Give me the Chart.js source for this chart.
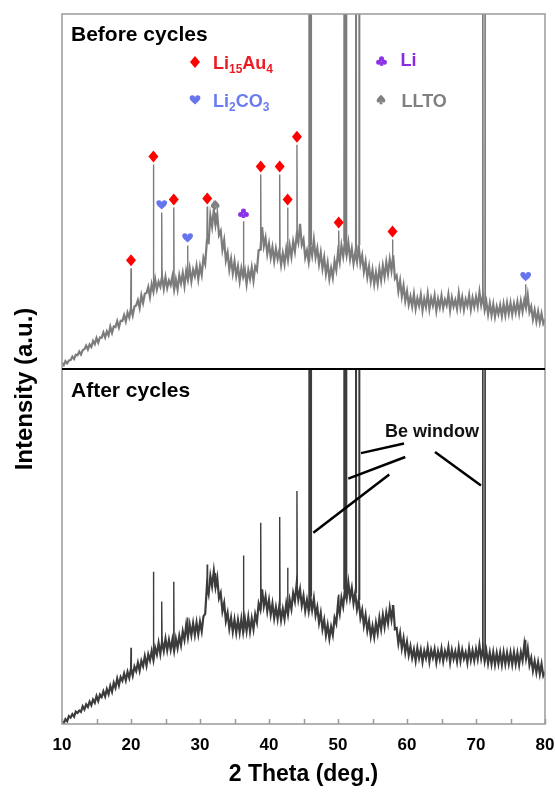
<!DOCTYPE html>
<html>
<head>
<meta charset="utf-8">
<title>XRD before / after cycles</title>
<script src="https://cdn.jsdelivr.net/npm/chart.js@4.4.1/dist/chart.umd.min.js"></script>
<style>
  html, body { margin: 0; padding: 0; background: #fff; }
  #wrap { position: relative; width: 555px; height: 792px; }
</style>
</head>
<body>
<div id="wrap"><canvas id="xrdChart"></canvas></div>
<script>
// measured counts every 0.25 deg from 10 to 80 (arbitrary units, 0-100 per panel)
const beforeCounts = [
  1.7, 1.1, 2.2, 1.6, 2.4, 2.5, 3.5, 2.8, 4.0, 3.9, 4.9, 4.1, 5.3, 5.6, 6.6, 5.5, 6.9, 6.2, 7.9, 7.0,
  8.7, 7.4, 8.9, 8.8, 10.3, 8.9, 10.6, 9.5, 11.9, 10.2, 12.0, 11.8, 13.5, 11.7, 13.6, 13.5, 15.2, 13.4, 15.9, 14.5,
  17.2, 15.1, 17.6, 17.9, 19.4, 17.2, 20.8, 18.6, 21.2, 21.4, 23.1, 20.3, 23.9, 21.8, 25.3, 22.4, 24.6, 23.2, 26.1, 22.6,
  25.9, 22.8, 24.9, 23.6, 26.1, 22.3, 25.2, 22.4, 26.4, 24.1, 27.0, 23.4, 27.6, 25.1, 28.4, 24.7, 28.0, 26.2, 29.1, 25.3,
  29.0, 26.5, 31.3, 29.6, 36.1, 35.6, 43.2, 40.1, 44.9, 40.6, 43.6, 37.7, 38.9, 33.6, 36.3, 30.6, 32.8, 28.0, 31.0, 27.0,
  30.3, 26.2, 28.9, 24.8, 28.4, 25.9, 27.9, 23.9, 27.8, 25.4, 28.6, 24.9, 28.9, 27.8, 33.5, 33.6, 40.0, 34.6, 37.0, 32.4,
  35.3, 31.4, 34.3, 30.4, 33.9, 31.0, 33.4, 29.3, 32.6, 29.6, 33.8, 30.7, 34.8, 31.6, 35.9, 33.1, 37.6, 35.6, 40.9, 35.0,
  36.5, 31.4, 33.4, 30.2, 34.9, 32.0, 36.4, 31.5, 34.0, 29.6, 32.8, 28.3, 31.4, 26.8, 29.9, 25.4, 28.4, 25.7, 30.4, 27.9,
  32.9, 30.1, 34.8, 31.7, 35.9, 32.1, 35.6, 31.0, 33.9, 29.7, 32.8, 30.2, 34.9, 29.6, 32.0, 27.4, 30.3, 25.9, 28.9, 24.7,
  27.9, 23.9, 27.2, 24.0, 28.2, 25.0, 29.1, 25.9, 30.1, 26.8, 30.9, 27.7, 32.0, 25.5, 26.3, 21.9, 24.9, 20.5, 23.5, 19.2,
  21.9, 18.1, 20.4, 17.6, 21.1, 17.0, 19.9, 17.8, 20.9, 16.5, 19.8, 17.5, 21.2, 16.9, 20.0, 17.9, 20.7, 16.4, 19.7, 17.4,
  20.6, 17.2, 19.5, 17.9, 21.0, 16.6, 20.1, 17.6, 19.4, 16.9, 21.3, 17.4, 20.2, 16.7, 19.6, 17.8, 20.8, 16.8, 20.0, 17.5,
  20.3, 17.6, 21.7, 18.0, 20.6, 16.6, 19.0, 15.4, 18.5, 15.1, 18.2, 14.7, 17.6, 15.5, 18.0, 14.9, 18.3, 15.2, 18.6, 15.6,
  18.6, 15.4, 18.4, 15.9, 18.9, 15.7, 19.1, 16.2, 19.4, 17.2, 20.8, 16.0, 17.6, 14.0, 16.6, 13.4, 16.2, 13.1, 15.6, 12.8,
  14.0
];
const afterCounts = [
  0.8, 0.2, 1.4, 0.8, 2.2, 1.8, 2.8, 2.1, 3.5, 3.1, 3.8, 3.4, 5.0, 4.1, 5.5, 4.8, 6.3, 5.3, 6.9, 6.0,
  7.9, 6.5, 8.3, 7.6, 9.2, 7.8, 9.8, 8.4, 10.7, 9.1, 11.6, 10.2, 12.8, 10.9, 13.2, 12.2, 14.2, 12.3, 14.7, 13.0,
  15.7, 13.6, 16.2, 14.9, 17.3, 15.0, 17.8, 16.3, 19.1, 16.5, 19.6, 17.9, 20.6, 18.0, 21.5, 19.6, 22.8, 19.7, 23.2, 20.6,
  24.0, 20.8, 23.7, 20.9, 23.8, 20.6, 24.0, 21.4, 24.8, 22.2, 26.1, 23.7, 27.9, 24.4, 28.0, 25.0, 28.4, 25.1, 28.6, 25.3,
  28.8, 26.1, 30.3, 31.0, 38.9, 36.6, 41.7, 38.8, 43.1, 38.5, 41.2, 35.4, 36.9, 31.8, 34.1, 29.0, 31.3, 26.9, 29.9, 26.0,
  29.4, 25.7, 29.3, 25.8, 29.6, 25.9, 29.7, 26.2, 30.1, 26.1, 29.7, 26.7, 30.9, 28.7, 33.9, 32.2, 37.9, 33.2, 35.9, 31.8,
  34.9, 30.8, 33.9, 29.8, 32.9, 29.6, 33.4, 29.3, 32.4, 29.6, 33.9, 30.9, 35.0, 32.4, 36.9, 34.6, 39.4, 35.1, 37.9, 33.4,
  36.1, 31.9, 34.9, 31.8, 35.9, 32.1, 35.4, 30.6, 32.9, 28.5, 31.3, 26.7, 29.3, 25.0, 27.9, 24.1, 27.4, 25.1, 29.9, 28.3,
  33.9, 31.1, 35.5, 33.1, 37.9, 35.3, 39.8, 35.5, 38.3, 34.0, 36.9, 32.3, 34.9, 29.9, 32.1, 27.8, 30.7, 26.3, 29.0, 24.7,
  27.6, 24.5, 28.5, 25.6, 29.9, 26.7, 30.7, 27.4, 31.3, 28.4, 32.7, 29.5, 33.5, 26.7, 27.0, 22.7, 25.6, 21.3, 24.2, 20.2,
  23.1, 19.4, 21.9, 18.6, 21.0, 17.8, 21.4, 18.5, 20.9, 17.5, 20.6, 18.6, 21.5, 17.6, 20.8, 18.7, 21.1, 17.4, 20.5, 18.2,
  21.2, 17.7, 20.5, 18.6, 21.6, 17.4, 20.8, 18.3, 20.4, 17.6, 21.4, 17.8, 20.9, 18.4, 20.2, 17.3, 21.3, 18.0, 20.7, 17.9,
  21.0, 18.3, 22.2, 18.5, 21.2, 17.7, 20.6, 17.1, 20.1, 16.9, 20.2, 16.8, 20.0, 17.0, 20.1, 16.7, 20.2, 16.9, 20.0, 17.0,
  20.1, 16.8, 20.2, 16.9, 20.0, 16.7, 20.2, 17.9, 22.4, 18.4, 21.3, 16.6, 18.6, 15.0, 17.7, 14.5, 17.4, 14.1, 16.9, 13.6,
  14.7
];

// sharp reflections (2 theta) and their peak heights; 400 = off scale (Be window)
const peakPos    = [20.0, 23.25, 24.45, 26.2, 28.2, 31.05, 32.2, 36.3, 38.8, 41.55, 42.7, 44.05,
                    45.84, 46.09, 50.1, 50.91, 51.2, 52.61, 53.09, 57.9, 70.97, 71.3, 77.2];
const beforePeak = [28.4, 57.6, 44.1, 45.5, 34.8, 45.8, 44.0, 41.6, 54.8, 54.8, 45.5, 63.2,
                    400, 400, 39.0, 400, 400, 400, 400, 36.5, 400, 400, 23.9];
const afterPeak  = [21.5, 42.9, 34.5, 40.1, 30.0, 44.9, 42.5, 47.5, 56.7, 58.3, 44.0, 65.6,
                    400, 400, 36.5, 400, 400, 400, 400, 33.0, 400, 400, 23.7];

// phase assignment of the reflections in the "before" pattern
const li15au4Peaks = [20.0, 23.25, 26.2, 31.05, 38.8, 41.55, 42.7, 44.05, 50.1, 57.9];
const li2co3Peaks = [24.45, 28.2, 77.2];
const liPeaks = [36.3];
const lltoPeaks = [32.2];

const xTicks = { min: 10, max: 80, step: 5 };
const STEP = 0.25;

// Be window call-out in the "after" panel: [2θ, value] pairs
const windowLeaders = [
  [53.33, 76.3, 59.57, 79.0],
  [51.49, 69.1, 59.75, 75.2],
  [46.42, 53.9, 57.43, 70.3],
  [64.06, 76.6, 70.72, 67.2]
];
const windowLabelAt = [56.8, 80.8];

const FONT = '"Liberation Sans", Arial, Helvetica, sans-serif';
Chart.defaults.font.family = FONT;

const twoTheta = beforeCounts.map((_, i) => xTicks.min + i * STEP);

function trace(values) {
  return twoTheta.map((x, i) => ({ x: x, y: values[i] }));
}

// narrow triangles standing on the background, broken apart with nulls
function peaks(heights, base) {
  const pts = [];
  peakPos.forEach((p, i) => {
    const foot = base[Math.round((p - xTicks.min) / STEP)];
    pts.push({ x: p - 0.05, y: foot }, { x: p, y: heights[i] }, { x: p + 0.05, y: foot }, { x: p + 0.051, y: null });
  });
  return pts;
}

function drawSymbol(ctx, kind, x, y, color) {
  ctx.save();
  ctx.fillStyle = color;
  ctx.beginPath();
  if (kind === 'diamond') {
    ctx.moveTo(x, y - 6); ctx.lineTo(x + 5, y); ctx.lineTo(x, y + 6); ctx.lineTo(x - 5, y);
    ctx.closePath(); ctx.fill();
  } else if (kind === 'heart') {
    ctx.moveTo(x, y + 5);
    ctx.bezierCurveTo(x - 2.4, y + 2.8, x - 5.4, y + 0.6, x - 5.4, y - 1.5);
    ctx.arc(x - 2.7, y - 1.5, 2.7, Math.PI, 0);
    ctx.arc(x + 2.7, y - 1.5, 2.7, Math.PI, 0);
    ctx.bezierCurveTo(x + 5.4, y + 0.6, x + 2.4, y + 2.8, x, y + 5);
    ctx.fill();
  } else if (kind === 'club') {
    [[0, -2.3], [-2.9, 1.2], [2.9, 1.2]].forEach(([dx, dy]) => {
      ctx.moveTo(x + dx + 2.5, y + dy);
      ctx.arc(x + dx, y + dy, 2.5, 0, Math.PI * 2);
    });
    ctx.fill();
    ctx.beginPath();
    ctx.moveTo(x, y); ctx.lineTo(x + 2, y + 4.8); ctx.lineTo(x - 2, y + 4.8); ctx.closePath();
    ctx.fill();
  } else if (kind === 'spade') {
    ctx.moveTo(x, y - 4.8);
    ctx.bezierCurveTo(x - 2, y - 2.6, x - 4.4, y - 0.8, x - 4.4, y + 0.9);
    ctx.arc(x - 2.2, y + 0.9, 2.2, Math.PI, 0, true);
    ctx.arc(x + 2.2, y + 0.9, 2.2, Math.PI, 0, true);
    ctx.bezierCurveTo(x + 4.4, y - 0.8, x + 2, y - 2.6, x, y - 4.8);
    ctx.fill();
    ctx.beginPath();
    ctx.moveTo(x, y + 1); ctx.lineTo(x + 1.9, y + 4.8); ctx.lineTo(x - 1.9, y + 4.8); ctx.closePath();
    ctx.fill();
  }
  ctx.restore();
}

function drawFormula(ctx, parts, x, y, color) {
  ctx.fillStyle = color;
  ctx.textAlign = 'left';
  ctx.textBaseline = 'alphabetic';
  parts.forEach(([txt, sub]) => {
    ctx.font = sub ? 'bold 12px ' + FONT : 'bold 18px ' + FONT;
    ctx.fillText(txt, x, sub ? y + 4 : y);
    x += ctx.measureText(txt).width;
  });
}

// keep each pattern inside its own panel
const panelClip = {
  id: 'panelClip',
  beforeDatasetDraw(chart, args) {
    const ys = args.meta.yScale, a = chart.chartArea, ctx = chart.ctx;
    ctx.save();
    ctx.beginPath();
    ctx.rect(a.left, ys.top, a.right - a.left, ys.bottom - ys.top);
    ctx.clip();
  },
  afterDatasetDraw(chart) {
    chart.ctx.restore();
  }
};

// frame, panel divider, inward ticks and all annotation text
const decorations = {
  id: 'decorations',
  afterDatasetsDraw(chart) {
    const { ctx, chartArea: a, scales } = chart;
    const x = scales.x, yB = scales.yBefore, yA = scales.yAfter;
    ctx.save();

    ctx.strokeStyle = '#9a9a9a';
    ctx.lineWidth = 1.5;
    ctx.strokeRect(a.left, a.top, a.right - a.left, a.bottom - a.top);
    x.ticks.forEach(t => {
      const px = Math.round(x.getPixelForValue(t.value)) + 0.5;
      ctx.beginPath(); ctx.moveTo(px, a.bottom); ctx.lineTo(px, a.bottom - 5); ctx.stroke();
    });
    ctx.strokeStyle = '#000';
    ctx.lineWidth = 2;
    ctx.beginPath(); ctx.moveTo(a.left, yB.bottom); ctx.lineTo(a.right, yB.bottom); ctx.stroke();

    // panel titles
    ctx.fillStyle = '#000';
    ctx.font = 'bold 21px ' + FONT;
    ctx.textAlign = 'left';
    ctx.textBaseline = 'alphabetic';
    ctx.fillText('Before cycles', a.left + 9, yB.top + 27);
    ctx.fillText('After cycles', a.left + 9, yA.top + 28);

    // y title spanning both panels
    ctx.save();
    ctx.translate(31.5, 389);
    ctx.rotate(-Math.PI / 2);
    ctx.textAlign = 'center';
    ctx.font = 'bold 24px ' + FONT;
    ctx.fillText('Intensity (a.u.)', 0, 0);
    ctx.restore();

    // phase legend
    drawSymbol(ctx, 'diamond', 195, 62, '#ff0000');
    drawFormula(ctx, [['Li', 0], ['15', 1], ['Au', 0], ['4', 1]], 213, 68.5, '#ec1c24');
    drawSymbol(ctx, 'heart', 195, 99.5, '#6674ee');
    drawFormula(ctx, [['Li', 0], ['2', 1], ['CO', 0], ['3', 1]], 213, 107, '#6b7bef');
    drawSymbol(ctx, 'club', 381.5, 61, '#8c32e6');
    drawFormula(ctx, [['Li', 0]], 400.5, 66, '#8a2be2');
    drawSymbol(ctx, 'spade', 381, 99.5, '#808080');
    drawFormula(ctx, [['LLTO', 0]], 401.5, 106.5, '#808080');

    // phase markers above the "before" reflections
    const mark = (list, kind, color) => list.forEach(p => {
      const h = beforePeak[peakPos.indexOf(p)];
      drawSymbol(ctx, kind, x.getPixelForValue(p), yB.getPixelForValue(h) - 8, color);
    });
    mark(li15au4Peaks, 'diamond', '#ff0000');
    mark(li2co3Peaks, 'heart', '#6674ee');
    mark(liPeaks, 'club', '#8c32e6');
    mark(lltoPeaks, 'spade', '#808080');

    // Be window call-out
    ctx.strokeStyle = '#000';
    ctx.lineWidth = 2.5;
    windowLeaders.forEach(([x1, v1, x2, v2]) => {
      ctx.beginPath();
      ctx.moveTo(x.getPixelForValue(x1), yA.getPixelForValue(v1));
      ctx.lineTo(x.getPixelForValue(x2), yA.getPixelForValue(v2));
      ctx.stroke();
    });
    ctx.fillStyle = '#111';
    ctx.font = 'bold 18px ' + FONT;
    ctx.fillText('Be window', x.getPixelForValue(windowLabelAt[0]), yA.getPixelForValue(windowLabelAt[1]));

    ctx.restore();
  }
};

const hiddenY = {
  type: 'linear',
  position: 'left',
  stack: 'xrd',
  stackWeight: 1,
  min: 0,
  max: 100,
  ticks: { display: false },
  grid: { display: false, drawTicks: false },
  border: { display: false }
};

new Chart(document.getElementById('xrdChart'), {
  type: 'line',
  data: {
    datasets: [
      { label: 'After cycles', data: trace(afterCounts), yAxisID: 'yAfter',
        borderColor: '#3c3c3c', borderWidth: 2.2 },
      { label: 'After cycles peaks', data: peaks(afterPeak, afterCounts), yAxisID: 'yAfter',
        borderColor: '#3c3c3c', borderWidth: 1.4 },
      { label: 'Before cycles', data: trace(beforeCounts), yAxisID: 'yBefore',
        borderColor: '#7c7c7c', borderWidth: 2.2 },
      { label: 'Before cycles peaks', data: peaks(beforePeak, beforeCounts), yAxisID: 'yBefore',
        borderColor: '#7c7c7c', borderWidth: 1.4 }
    ]
  },
  options: {
    responsive: true,
    maintainAspectRatio: false,
    animation: false,
    devicePixelRatio: 1,
    layout: { padding: { left: 62, right: 10, top: 14, bottom: 0 } },
    elements: {
      point: { radius: 0 },
      line: { tension: 0, fill: false, borderJoinStyle: 'miter' }
    },
    plugins: {
      legend: { display: false },
      tooltip: { enabled: false }
    },
    scales: {
      x: {
        type: 'linear',
        min: xTicks.min,
        max: xTicks.max,
        grid: { display: false, drawTicks: false },
        border: { display: false },
        ticks: {
          stepSize: xTicks.step,
          autoSkip: false,
          maxRotation: 0,
          padding: 11,
          color: '#000',
          font: { size: 17, weight: 'bold' },
          callback: v => (v % 10 === 0 ? String(v) : '')
        },
        title: {
          display: true,
          text: '2 Theta (deg.)',
          color: '#000',
          font: { size: 23, weight: 'bold' },
          padding: { top: 0, bottom: 4 }
        },
        afterFit: s => { s.height = 68; s.paddingLeft = 0; s.paddingRight = 0; }
      },
      yAfter: Object.assign({}, hiddenY),
      yBefore: Object.assign({}, hiddenY)
    }
  },
  plugins: [panelClip, decorations]
});
</script>
</body>
</html>
